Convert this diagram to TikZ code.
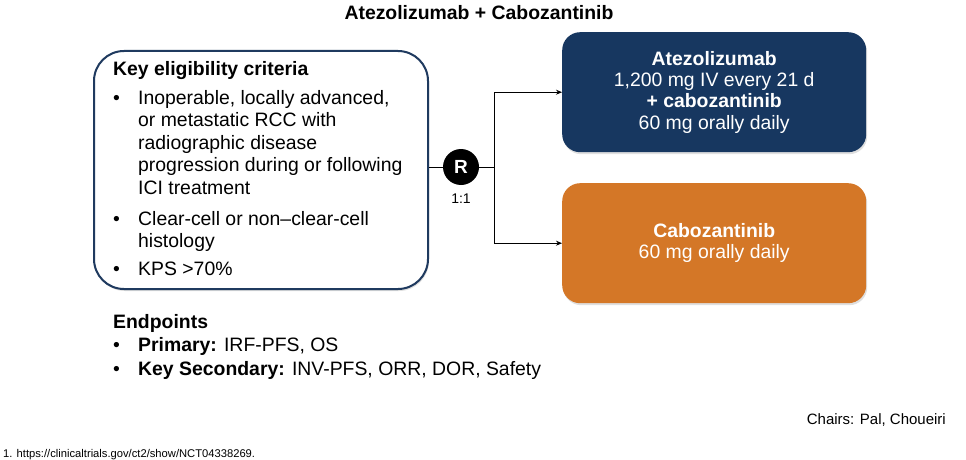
\documentclass[tikz,border=0pt]{standalone}
\usepackage{fontspec}
\setmainfont{Liberation Sans}
\usetikzlibrary{arrows.meta,shadows}
\definecolor{navy}{HTML}{173760}
\definecolor{navyline}{HTML}{1F3A5F}
\definecolor{orng}{HTML}{D47727}
\tikzset{
  txt/.style={font=\fontsize{19.4}{22}\selectfont, inner sep=0pt, anchor=base west},
  armbox/.style={rounded corners=18pt, draw=none, text=white, align=center,
    font=\fontsize{19.4}{21.4}\selectfont, drop shadow={shadow xshift=1pt, shadow yshift=-2pt, opacity=0.25}},
  conn/.style={line width=1pt, black},
  arr/.style={conn, -{Stealth[length=6pt,width=5pt]}},
}
\begin{document}
\begin{tikzpicture}[x=1pt,y=-1pt]
\useasboundingbox[fill=white] (0,0) rectangle (966,460);
% title
\node[font=\fontsize{19.4}{22}\selectfont\bfseries, anchor=base] (title) at (479,20) {Atezolizumab + Cabozantinib};
% left box
\node[draw=navyline, line width=2pt, rounded corners=30pt, minimum width=334pt, minimum height=238pt, anchor=north west,
  fill=white, drop shadow={shadow xshift=1pt, shadow yshift=-2pt, opacity=0.25}] (crit) at (93,50) {};
\node[txt, font=\fontsize{19.4}{22}\selectfont\bfseries] (kec) at (113,75) {Key eligibility criteria};
\node[txt] (b1) at (113,104) {\textbullet};
\node[txt] (l1) at (138,104) {Inoperable, locally advanced,};
\node[txt] (l2) at (138,126.5) {or metastatic RCC with};
\node[txt] (l3) at (138,149) {radiographic disease};
\node[txt] (l4) at (138,171.5) {progression during or following};
\node[txt] (l5) at (138,194) {ICI treatment};
\node[txt] (b2) at (113,225) {\textbullet};
\node[txt] (l6) at (138,225) {Clear-cell or non–clear-cell};
\node[txt] (l7) at (138,247.5) {histology};
\node[txt] (b3) at (113,275) {\textbullet};
\node[txt] (l8) at (138,275) {KPS >70\%};
% randomization
\node[circle, fill=black, minimum size=36pt, inner sep=0pt, text=white, font=\fontsize{19}{20}\selectfont\bfseries] (R) at (461,167) {R};
\node[font=\fontsize{14}{15}\selectfont, anchor=base] (ratio) at (461,203) {1:1};
% arms
\node[armbox, fill=navy, minimum width=304pt, minimum height=120pt, anchor=north west] (arm1) at (562,32)
  {\textbf{Atezolizumab}\\1,200 mg IV every 21 d\\\textbf{+ cabozantinib}\\60 mg orally daily};
\node[armbox, fill=orng, minimum width=304pt, minimum height=120pt, anchor=north west] (arm2) at (562,183)
  {\textbf{Cabozantinib}\\60 mg orally daily};
% connectors
\coordinate (split) at (494,167);
\draw[conn] (crit.east |- R) -- (R.west);
\draw[conn] (R.east) -- (split);
\draw[arr] (split) |- (arm1.west);
\draw[arr] (split) |- (arm2.west);
% endpoints
\node[txt, font=\fontsize{19.4}{22}\selectfont\bfseries] (ep) at (113,328) {Endpoints};
\node[txt] (eb1) at (113,351) {\textbullet};
\node[txt] (e1) at (138,351) {\textbf{Primary:} IRF-PFS, OS};
\node[txt] (eb2) at (113,375) {\textbullet};
\node[txt] (e2) at (138,375) {\textbf{Key Secondary:} INV-PFS, ORR, DOR, Safety};
% chairs
\node[font=\fontsize{15}{18}\selectfont, anchor=base east, inner sep=0pt] (chairs) at (946,424) {Chairs: Pal, Choueiri};
\node[font=\fontsize{11.2}{12}\selectfont, anchor=base west, inner sep=0pt] (fn) at (3,457) {1. https://clinicaltrials.gov/ct2/show/NCT04338269.};
\end{tikzpicture}
\end{document}
